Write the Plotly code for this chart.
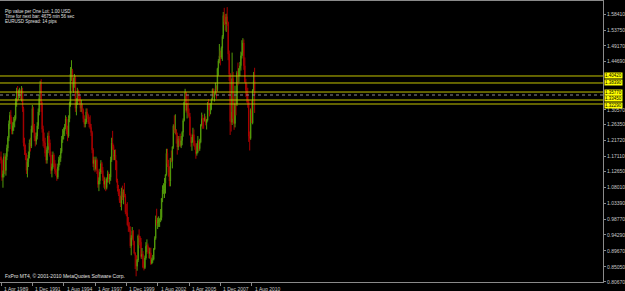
import pandas as pd
import plotly.graph_objects as go

# ---------------- data (monthly EURUSD, Apr 1989 - Nov 2010) ----------------
start_month = "1989-04-01"

opens = [
    1.170,1.160,1.110,1.120,1.170,1.130,1.170,1.195,1.225,
    1.265,1.290,1.275,1.245,1.260,1.270,1.280,1.330,1.360,1.345,1.355,1.360,
    1.345,1.360,1.310,1.210,1.190,1.175,1.130,1.155,1.175,1.210,1.200,1.250,
    1.310,1.250,1.225,1.215,1.230,1.260,1.300,1.340,1.380,1.320,1.250,1.215,
    1.210,1.180,1.160,1.190,1.230,1.210,1.175,1.130,1.140,1.175,1.150,1.130,
    1.125,1.110,1.140,1.160,1.165,1.185,1.220,1.235,1.245,1.255,1.280,1.245,
    1.230,1.280,1.320,1.410,1.420,1.370,1.385,1.400,1.310,1.330,1.360,1.340,
    1.335,1.310,1.320,1.305,1.280,1.265,1.270,1.300,1.290,1.270,1.265,1.255,
    1.240,1.190,1.150,1.160,1.135,1.160,1.130,1.090,1.100,1.125,1.150,1.130,
    1.110,1.090,1.100,1.080,1.105,1.120,1.105,1.110,1.160,1.210,1.200,1.170,
    1.175,1.158,1.100,1.078,1.061,1.043,1.035,1.070,1.053,1.068,1.056,1.009,
    1.006,0.972,0.966,0.957,0.911,0.935,0.955,0.924,0.890,0.883,0.852,0.870,
    0.940,0.935,0.922,0.880,0.887,0.849,0.848,0.876,0.910,0.912,0.907,0.890,
    0.891,0.860,0.870,0.872,0.902,0.933,0.987,0.978,0.981,0.987,0.989,0.993,
    1.049,1.074,1.078,1.092,1.118,1.180,1.150,1.124,1.099,1.166,1.158,1.199,
    1.259,1.247,1.248,1.232,1.198,1.222,1.216,1.202,1.217,1.241,1.275,1.329,
    1.356,1.304,1.324,1.296,1.286,1.233,1.211,1.213,1.234,1.203,1.200,1.179,
    1.184,1.216,1.193,1.212,1.262,1.281,1.279,1.277,1.281,1.268,1.276,1.324,
    1.319,1.303,1.323,1.336,1.366,1.345,1.354,1.368,1.364,1.426,1.448,1.463,
    1.459,1.485,1.519,1.580,1.561,1.555,1.576,1.560,1.468,1.409,1.272,1.270,
    1.397,1.280,1.266,1.325,1.323,1.414,1.404,1.426,1.434,1.463,1.472,1.500,
    1.434,1.386,1.363,1.351,1.329,1.229,1.223,1.305,1.268,1.363,1.392,
]
highs = [
    1.185,1.165,1.130,1.180,1.175,1.180,1.205,1.230,1.275,
    1.300,1.305,1.285,1.270,1.285,1.290,1.340,1.370,1.375,1.365,1.370,1.365,
    1.375,1.370,1.315,1.225,1.205,1.180,1.165,1.185,1.220,1.225,1.260,1.320,
    1.315,1.265,1.240,1.240,1.270,1.310,1.350,1.390,1.395,1.330,1.260,1.240,
    1.225,1.195,1.200,1.240,1.245,1.220,1.185,1.150,1.185,1.180,1.160,1.150,
    1.135,1.150,1.170,1.175,1.195,1.230,1.250,1.255,1.265,1.290,1.285,1.260,
    1.290,1.330,1.430,1.450,1.425,1.400,1.410,1.405,1.340,1.370,1.365,1.355,
    1.345,1.335,1.325,1.310,1.290,1.280,1.310,1.310,1.295,1.285,1.290,1.265,
    1.245,1.195,1.170,1.165,1.170,1.165,1.135,1.110,1.135,1.160,1.155,1.140,
    1.115,1.110,1.105,1.110,1.130,1.125,1.120,1.170,1.225,1.245,1.205,1.190,
    1.191,1.160,1.106,1.088,1.076,1.057,1.080,1.086,1.075,1.094,1.062,1.033,
    1.038,0.995,0.980,0.968,0.942,0.966,0.957,0.926,0.893,0.884,0.873,0.944,
    0.959,0.940,0.934,0.905,0.896,0.866,0.883,0.922,0.930,0.918,0.908,0.905,
    0.906,0.877,0.885,0.905,0.939,0.999,1.019,0.993,0.997,0.991,1.018,1.050,
    1.087,1.093,1.108,1.119,1.193,1.193,1.161,1.142,1.166,1.188,1.200,1.264,
    1.290,1.293,1.250,1.240,1.230,1.230,1.237,1.230,1.244,1.281,1.330,1.367,
    1.358,1.325,1.349,1.310,1.297,1.237,1.227,1.254,1.249,1.217,1.209,1.209,
    1.230,1.218,1.222,1.265,1.298,1.292,1.283,1.295,1.287,1.279,1.329,1.337,
    1.325,1.325,1.339,1.368,1.368,1.355,1.385,1.377,1.428,1.453,1.497,1.478,
    1.490,1.523,1.590,1.602,1.584,1.585,1.604,1.562,1.478,1.413,1.300,1.472,
    1.416,1.306,1.376,1.345,1.419,1.443,1.427,1.445,1.475,1.508,1.514,1.510,
    1.458,1.396,1.382,1.370,1.335,1.243,1.310,1.333,1.366,1.416,1.428,
]
lows = [
    1.150,1.100,1.080,1.110,1.120,1.115,1.160,1.185,1.215,
    1.250,1.265,1.235,1.235,1.245,1.255,1.275,1.315,1.330,1.335,1.340,1.335,
    1.330,1.300,1.200,1.175,1.160,1.120,1.110,1.140,1.165,1.185,1.195,1.240,
    1.240,1.215,1.200,1.205,1.220,1.250,1.290,1.330,1.300,1.240,1.200,1.195,
    1.170,1.150,1.150,1.180,1.200,1.170,1.120,1.110,1.135,1.140,1.120,1.115,
    1.100,1.105,1.130,1.145,1.155,1.180,1.210,1.220,1.230,1.250,1.235,1.215,
    1.225,1.270,1.315,1.390,1.360,1.355,1.370,1.300,1.290,1.320,1.330,1.320,
    1.300,1.300,1.295,1.270,1.255,1.255,1.265,1.280,1.265,1.255,1.250,1.230,
    1.180,1.140,1.130,1.125,1.130,1.120,1.080,1.070,1.090,1.120,1.120,1.100,
    1.080,1.075,1.070,1.075,1.095,1.095,1.090,1.100,1.155,1.190,1.160,1.160,
    1.131,1.095,1.069,1.056,1.036,1.024,1.014,1.044,1.032,1.052,1.003,0.997,
    0.970,0.952,0.951,0.905,0.884,0.929,0.913,0.887,0.844,0.823,0.839,0.864,
    0.913,0.904,0.874,0.873,0.846,0.840,0.844,0.871,0.893,0.888,0.875,0.874,
    0.856,0.858,0.862,0.869,0.899,0.929,0.970,0.960,0.966,0.966,0.980,0.985,
    1.038,1.062,1.050,1.063,1.115,1.140,1.112,1.084,1.084,1.154,1.136,1.193,
    1.239,1.235,1.208,1.176,1.189,1.200,1.198,1.195,1.203,1.228,1.272,1.320,
    1.298,1.281,1.289,1.282,1.231,1.199,1.187,1.211,1.200,1.190,1.164,1.173,
    1.180,1.186,1.187,1.209,1.258,1.251,1.251,1.272,1.261,1.249,1.272,1.306,
    1.287,1.293,1.306,1.334,1.342,1.330,1.350,1.338,1.359,1.405,1.441,1.435,
    1.454,1.448,1.512,1.552,1.536,1.532,1.550,1.450,1.390,1.233,1.243,1.262,
    1.266,1.248,1.255,1.290,1.317,1.377,1.386,1.404,1.420,1.455,1.463,1.422,
    1.386,1.344,1.327,1.312,1.213,1.188,1.219,1.271,1.264,1.360,1.297,
]
closes = [
    1.160,1.110,1.120,1.170,1.130,1.170,1.195,1.225,1.265,
    1.290,1.275,1.245,1.260,1.270,1.280,1.330,1.360,1.345,1.355,1.360,1.345,
    1.360,1.310,1.210,1.190,1.175,1.130,1.155,1.175,1.210,1.200,1.250,1.310,
    1.250,1.225,1.215,1.230,1.260,1.300,1.340,1.380,1.320,1.250,1.215,1.210,
    1.180,1.160,1.190,1.230,1.210,1.175,1.130,1.140,1.175,1.150,1.130,1.125,
    1.110,1.140,1.160,1.165,1.185,1.220,1.235,1.245,1.255,1.280,1.245,1.230,
    1.280,1.320,1.410,1.420,1.370,1.385,1.400,1.310,1.330,1.360,1.340,1.335,
    1.310,1.320,1.305,1.280,1.265,1.270,1.300,1.290,1.270,1.265,1.255,1.240,
    1.190,1.150,1.160,1.135,1.160,1.130,1.090,1.100,1.125,1.150,1.130,1.110,
    1.090,1.100,1.080,1.105,1.120,1.105,1.110,1.160,1.210,1.200,1.170,1.175,
    1.158,1.100,1.078,1.061,1.043,1.035,1.070,1.053,1.068,1.056,1.009,1.006,
    0.972,0.966,0.957,0.911,0.935,0.955,0.924,0.890,0.883,0.852,0.870,0.940,
    0.935,0.922,0.880,0.887,0.849,0.848,0.876,0.910,0.912,0.907,0.890,0.891,
    0.860,0.870,0.872,0.902,0.933,0.987,0.978,0.981,0.987,0.989,0.993,1.049,
    1.074,1.078,1.092,1.118,1.180,1.150,1.124,1.099,1.166,1.158,1.199,1.259,
    1.247,1.248,1.232,1.198,1.222,1.216,1.202,1.217,1.241,1.275,1.329,1.356,
    1.304,1.324,1.296,1.286,1.233,1.211,1.213,1.234,1.203,1.200,1.179,1.184,
    1.216,1.193,1.212,1.262,1.281,1.279,1.277,1.281,1.268,1.276,1.324,1.319,
    1.303,1.323,1.336,1.366,1.345,1.354,1.368,1.364,1.426,1.448,1.463,1.459,
    1.485,1.519,1.580,1.561,1.555,1.576,1.560,1.468,1.409,1.272,1.270,1.397,
    1.280,1.266,1.325,1.323,1.414,1.404,1.426,1.434,1.463,1.472,1.500,1.434,
    1.386,1.363,1.351,1.329,1.229,1.223,1.305,1.268,1.363,1.392,1.349,
]

# horizontal yellow levels and the current bid
levels = [1.40420, 1.38390, 1.35770, 1.33450, 1.32290]
level_labels = ["1.40420", "1.38390", "1.35770", "1.33450", "1.32290"]
bid_price = 1.3490

# right axis price labels
price_ticks = [1.58410, 1.53750, 1.49170, 1.44690, 1.30570, 1.26350, 1.21720,
               1.17110, 1.12650, 1.08010, 1.03390, 0.98770, 0.94290, 0.89670,
               0.85050, 0.80670]

# time labels
time_ticks = ["1989-04-01", "1991-12-01", "1994-08-01", "1997-04-01", "1999-12-01",
              "2002-08-01", "2005-04-01", "2007-12-01", "2010-08-01"]
time_labels = ["1 Apr 1989", "1 Dec 1991", "1 Aug 1994", "1 Apr 1997", "1 Dec 1999",
               "1 Aug 2002", "1 Apr 2005", "1 Dec 2007", "1 Aug 2010"]

info_lines = ["Pip value per One Lot: 1.00 USD",
              "Time for next bar: 4675 min 56 sec",
              "EURUSD Spread: 14 pips"]
copyright_text = "FxPro MT4, \u00a9 2001-2010 MetaQuotes Software Corp."

# ---------------- figure ----------------
dates = pd.date_range(start_month, periods=len(closes), freq="MS")

GREEN = "#52990a"
RED = "#a80000"
GRID = "#8a8a8a"
TXT = "#c8c8c8"
FONT = "Liberation Sans, Arial, sans-serif"

fig = go.Figure()
fig.add_trace(go.Candlestick(
    x=dates, open=opens, high=highs, low=lows, close=closes,
    increasing=dict(line=dict(color=GREEN, width=1), fillcolor=GREEN),
    decreasing=dict(line=dict(color=RED, width=1), fillcolor=RED),
    whiskerwidth=0, showlegend=False, hoverinfo="skip",
))

for lv in levels:
    fig.add_shape(type="line", xref="paper", x0=0, x1=1, yref="y", y0=lv, y1=lv,
                  line=dict(color="#c4c400", width=1), layer="above")
fig.add_shape(type="line", xref="paper", x0=0, x1=1, yref="y", y0=bid_price, y1=bid_price,
              line=dict(color="#8c8c8c", width=1, dash="dot"), layer="above")

# small vertical nudges keep the two close level boxes stacked, not overlapping
label_nudge = [0, 0, 0, 1.5, -1.5]
for lv, lab, nd in zip(levels, level_labels, label_nudge):
    fig.add_annotation(xref="paper", x=1, xanchor="left", xshift=1,
                       yref="y", y=lv, yanchor="middle", yshift=nd,
                       text=lab, showarrow=False,
                       font=dict(size=4.5, color="#000000", family=FONT),
                       bgcolor="#ffff00", borderpad=0)

for t, lab in zip(time_ticks, time_labels):
    fig.add_annotation(xref="x", x=t, xanchor="left", xshift=1,
                       yref="paper", y=0, yanchor="top", yshift=-2,
                       text=lab, showarrow=False,
                       font=dict(size=5, color=TXT, family=FONT))

for i, line in enumerate(info_lines):
    fig.add_annotation(xref="paper", x=0, xanchor="left", xshift=3,
                       yref="paper", y=1, yanchor="top", yshift=-6 - 5 * i,
                       text=line, showarrow=False,
                       font=dict(size=4.5, color="#e0e0e0", family=FONT))

fig.add_annotation(xref="paper", x=0, xanchor="left", xshift=3,
                   yref="paper", y=0, yanchor="bottom", yshift=1,
                   text=copyright_text, showarrow=False,
                   font=dict(size=5, color="#e0e0e0", family=FONT))

fig.update_layout(
    width=625, height=291,
    margin=dict(l=0, r=18, t=1, b=9),
    paper_bgcolor="#000000", plot_bgcolor="#000000",
    showlegend=False,
    xaxis=dict(
        type="date", range=["1989-03-01", "2040-06-25"],
        rangeslider=dict(visible=False),
        showgrid=False, zeroline=False,
        showline=True, linecolor=GRID, linewidth=1, mirror=True,
        tickvals=time_ticks, ticktext=[""] * len(time_ticks),
        ticks="outside", ticklen=3, tickcolor=GRID, tickwidth=1,
    ),
    yaxis=dict(
        side="right", range=[0.80636, 1.62183],
        showgrid=False, zeroline=False,
        showline=True, linecolor=GRID, linewidth=1,
        tickvals=price_ticks, ticktext=[f"{v:.5f}" for v in price_ticks],
        ticks="outside", ticklen=2, tickcolor=GRID,
        tickfont=dict(size=5, color=TXT, family=FONT),
    ),
)

fig.write_html("out.html")
